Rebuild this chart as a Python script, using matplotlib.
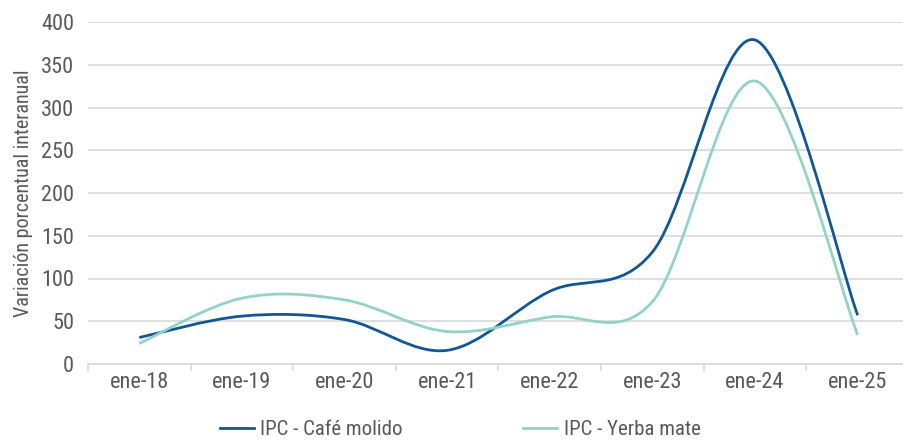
import matplotlib
matplotlib.use("Agg")
import matplotlib.pyplot as plt
from matplotlib.path import Path
from matplotlib.patches import PathPatch
from matplotlib.lines import Line2D

plt.rcParams['font.family'] = ['Roboto Condensed', 'Liberation Sans Narrow', 'Roboto', 'DejaVu Sans']

categories = ["ene-18", "ene-19", "ene-20", "ene-21", "ene-22", "ene-23", "ene-24", "ene-25"]
cafe = [31, 56, 52, 16, 85, 131, 379, 57]
yerba = [24, 77, 75, 38, 55, 73, 331, 34]

CAFE_COLOR = "#0f5796"
YERBA_COLOR = "#93d3c6"
TEXT_COLOR = "#595959"
GRID_COLOR = "#d9d9d9"


def smooth_path(xs, ys):
    # Excel-style smoothed line: cubic Bezier segments through every point
    verts = [(xs[0], ys[0])]
    codes = [Path.MOVETO]
    n = len(xs)
    for i in range(n - 1):
        x0, y0 = (xs[i - 1], ys[i - 1]) if i > 0 else (xs[i], ys[i])
        x1, y1 = xs[i], ys[i]
        x2, y2 = xs[i + 1], ys[i + 1]
        x3, y3 = (xs[i + 2], ys[i + 2]) if i + 2 < n else (x2, y2)
        c1 = (x1 + (x2 - x0) / 6, y1 + (y2 - y0) / 6)
        c2 = (x2 - (x3 - x1) / 6, y2 - (y3 - y1) / 6)
        verts += [c1, c2, (x2, y2)]
        codes += [Path.CURVE4] * 3
    return Path(verts, codes)


fig = plt.figure(figsize=(9.04, 4.41), dpi=100)
ax = fig.add_axes([88 / 904, 77 / 441, 821 / 904, 342 / 441])

x = list(range(len(categories)))
for vals, color in [(cafe, CAFE_COLOR), (yerba, YERBA_COLOR)]:
    patch = PathPatch(smooth_path(x, vals), facecolor="none", edgecolor=color,
                      lw=2.0, capstyle="butt", clip_on=False)
    ax.add_patch(patch)

ax.set_xlim(-0.5, len(categories) - 0.5)
ax.set_ylim(0, 400)
ax.set_yticks(range(0, 401, 50))
ax.yaxis.grid(True, color=GRID_COLOR, lw=1.2)
ax.set_axisbelow(True)

ax.set_xticks(x)
ax.set_xticklabels(categories)
ax.set_xticks([i + 0.5 for i in range(-1, len(categories))], minor=True)
ax.tick_params(axis="x", which="major", length=0, pad=6, labelsize=16, labelcolor=TEXT_COLOR)
ax.tick_params(axis="x", which="minor", length=5, color=GRID_COLOR, width=1.2)
ax.tick_params(axis="y", length=0, pad=10, labelsize=16, labelcolor=TEXT_COLOR)

for s in ["top", "right", "left"]:
    ax.spines[s].set_visible(False)
ax.spines["bottom"].set_color(GRID_COLOR)
ax.spines["bottom"].set_linewidth(1.2)

ax.set_ylabel("Variación porcentual interanual", fontsize=14.5, color=TEXT_COLOR, labelpad=6)

handles = [Line2D([], [], color=CAFE_COLOR, lw=2.0), Line2D([], [], color=YERBA_COLOR, lw=2.0)]
fig.legend(handles, ["IPC - Café molido", "IPC - Yerba mate"], loc="center",
           bbox_to_anchor=(0.509, 0.025), ncol=2, frameon=False, fontsize=15,
           labelcolor=TEXT_COLOR, columnspacing=5.8, handlelength=1.63, handletextpad=0.3)

fig.savefig("out.png", dpi=100)
